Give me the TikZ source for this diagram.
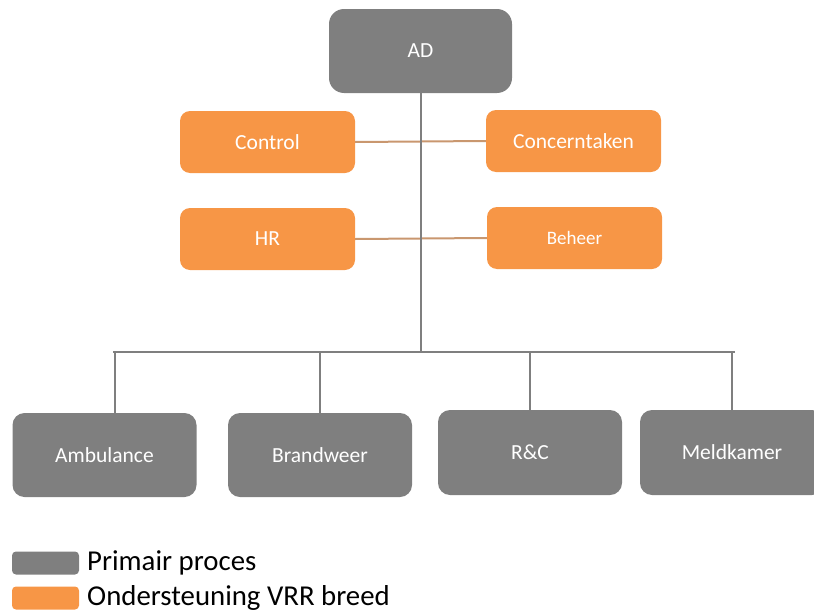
\documentclass[tikz,border=0pt]{standalone}
\usepackage{fontspec}
\setmainfont{Carlito}
\usetikzlibrary{positioning}

\definecolor{primgray}{HTML}{7F7F7F}
\definecolor{suporange}{HTML}{F79646}
\definecolor{linktan}{HTML}{C9976F}

\tikzset{
  unitbox/.style={rounded corners=12pt, inner sep=0pt, text=white,
    font=\fontsize{21.5}{24}\selectfont},
  primbox/.style={unitbox, fill=primgray, minimum width=184pt, minimum height=84pt},
  supbox/.style={unitbox, fill=suporange, minimum width=175pt, minimum height=62pt, rounded corners=10pt},
  treeline/.style={draw=primgray, line width=2pt},
  sideline/.style={draw=linktan, line width=2pt},
  keybox/.style={rounded corners=4pt, minimum width=67pt, minimum height=23pt, inner sep=0pt},
  keytext/.style={anchor=west, inner sep=0pt, font=\fontsize{28.8}{31}\selectfont}
}

\begin{document}
\begin{tikzpicture}[x=1pt, y=-1pt]
\useasboundingbox (0,0) rectangle (814,613);

% top and support units
\node[primbox, minimum width=183pt, rounded corners=15pt] (ad) at (420.5,51) {AD};
\node[supbox] (control) at (267.5,142) {Control};
\node[supbox] (concern) at (573.5,141) {Concerntaken};
\node[supbox] (hr) at (267.5,239) {HR};
\node[supbox, font=\fontsize{19}{22}\selectfont] (beheer) at (574.5,238) {Beheer};

% primary units
\node[primbox] (amb) at (104.5,455) {Ambulance};
\node[primbox] (brand) at (320,455) {Brandweer};
\node[primbox, minimum height=85pt] (rc) at (530,452.5) {R\&C};
\node[primbox, minimum height=85pt] (meld) at (732,452.5) {Meldkamer};

\draw[sideline] (control.east) -- (concern.west);
\draw[sideline] (hr.east) -- (beheer.west);

\coordinate (bus) at (420.5,352);
\coordinate (busL) at (113,352);
\coordinate (busR) at (735,352);
\draw[treeline] (ad.south) -- (bus);
\draw[treeline] (busL) -- (busR);

\foreach \x/\n in {115/amb, 320/brand, 530/rc, 732/meld}
{
  \coordinate (drop-\n) at (\x,352);
  \draw[treeline] (drop-\n) -- (drop-\n |- \n.north);
}

% legend
\node[keybox, fill=primgray] (keyprim) at (45.5,563) {};
\node[keybox, fill=suporange] (keysup) at (45.5,598) {};
\node[keytext] (keyprimtxt) at (87,563) {Primair proces};
\node[keytext] (keysuptxt) at (87,598) {Ondersteuning VRR breed};
\end{tikzpicture}
\end{document}
